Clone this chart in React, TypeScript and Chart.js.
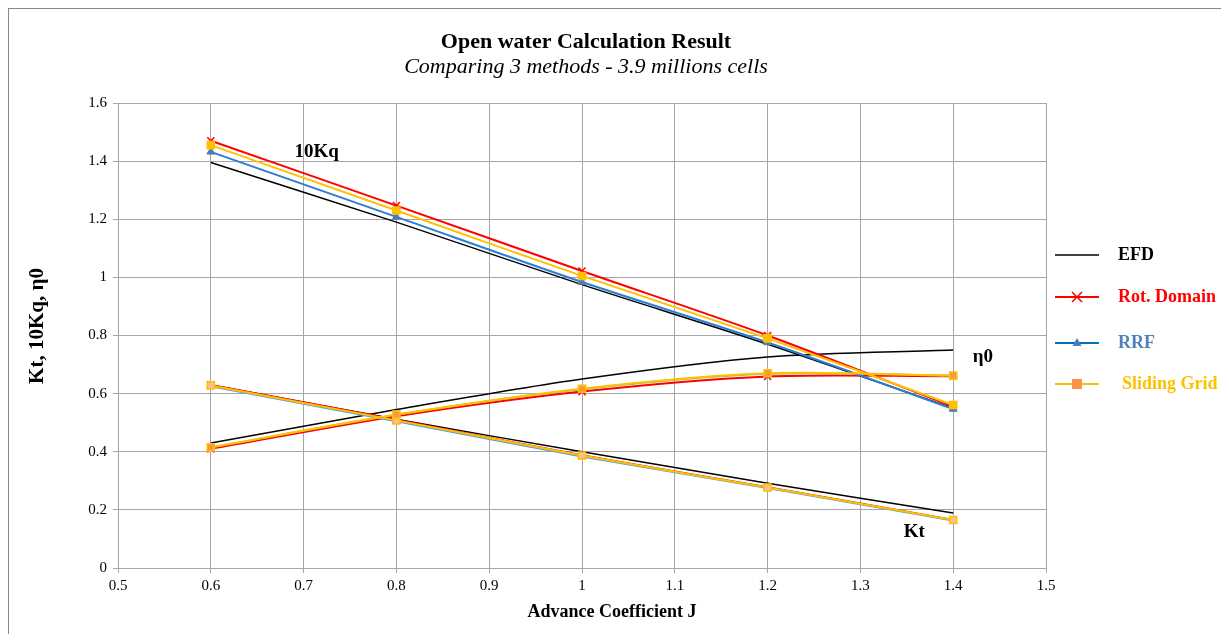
import React, { useEffect, useRef } from "react";
import { Chart, registerables } from "chart.js";

Chart.register(...registerables);

const TITLE = "Open water Calculation Result";
const SUBTITLE = "Comparing 3 methods - 3.9 millions cells";
const X_TITLE = "Advance Coefficient J";
const Y_TITLE = "Kt, 10Kq, η0";

const J = [0.6, 0.8, 1.0, 1.2, 1.4];

const efdKq10 = [1.395, 1.19, 0.975, 0.77, 0.55];
const efdEta = [0.43, 0.545, 0.65, 0.726, 0.75];
const efdKt = [0.63, 0.512, 0.4, 0.292, 0.189];

const rotKq10 = [1.47, 1.247, 1.022, 0.8, 0.555];
const rotEta = [0.41, 0.522, 0.607, 0.659, 0.66];
const rotKt = [0.63, 0.51, 0.388, 0.278, 0.165];

const rrfKq10 = [1.432, 1.208, 0.984, 0.776, 0.547];
const rrfEta = [0.415, 0.527, 0.615, 0.668, 0.662];
const rrfKt = [0.625, 0.505, 0.384, 0.275, 0.163];

const sgKq10 = [1.455, 1.23, 1.005, 0.79, 0.561];
const sgEta = [0.415, 0.528, 0.617, 0.67, 0.662];
const sgKt = [0.628, 0.508, 0.387, 0.277, 0.165];

const LEGEND = ["EFD", "Rot. Domain", "RRF", "Sliding Grid"];
const LABELS = [
  { text: "10Kq", x: 0.714, y: 1.43 },
  { text: "η0", x: 1.432, y: 0.726 },
  { text: "Kt", x: 1.358, y: 0.124 },
];

const pts = (ys: number[]) => J.map((x, i) => ({ x, y: ys[i] }));

const SERIF = '"Liberation Serif", "Times New Roman", serif';

export default function App() {
  const ref = useRef<HTMLCanvasElement | null>(null);

  useEffect(() => {
    if (!ref.current) return;

    const base = { showLine: true, tension: 0.3, borderWidth: 2 };
    const efd = (label: string, d: number[]) => ({
      ...base, label, data: pts(d), borderColor: "#000000", borderWidth: 1.5,
      pointRadius: 0, order: 4,
    });
    const rot = (label: string, d: number[]) => ({
      ...base, label, data: pts(d), borderColor: "#ff0000",
      pointStyle: "crossRot", pointRadius: 5, pointBorderColor: "#ff0000",
      pointBorderWidth: 1.5, order: 3,
    });
    const rrf = (label: string, d: number[], color: string) => ({
      ...base, label, data: pts(d), borderColor: color,
      pointStyle: "triangle", pointRadius: 4.5, pointBackgroundColor: "#4a7ebb",
      pointBorderColor: "#4a7ebb", pointBorderWidth: 1, order: 2,
    });
    const sg = (label: string, d: number[], fill: string) => ({
      ...base, label, data: pts(d), borderColor: "#ffc000",
      pointStyle: "rect", pointRadius: 5, pointBackgroundColor: fill,
      pointBorderColor: "#ffc000", pointBorderWidth: 1.5, order: 1,
    });

    const overlay = {
      id: "overlay",
      afterDraw(chart: any) {
        const ctx = chart.ctx;
        const xs = chart.scales.x;
        const ys = chart.scales.y;
        ctx.save();
        ctx.fillStyle = "#000";
        ctx.textAlign = "center";
        ctx.textBaseline = "middle";
        ctx.font = `bold 22px ${SERIF}`;
        ctx.fillText(TITLE, 577, 33);
        ctx.font = `italic 22px ${SERIF}`;
        ctx.fillText(SUBTITLE, 577, 58);
        ctx.font = `bold 18px ${SERIF}`;
        ctx.fillText(X_TITLE, 603, 603);
        ctx.save();
        ctx.translate(29, 317);
        ctx.rotate(-Math.PI / 2);
        ctx.font = `bold 21px ${SERIF}`;
        ctx.fillText(Y_TITLE, 0, 0);
        ctx.restore();

        // annotations
        ctx.font = `bold 19px ${SERIF}`;
        LABELS.forEach((l) => {
          ctx.fillText(l.text, xs.getPixelForValue(l.x), ys.getPixelForValue(l.y));
        });

        // legend
        const lx0 = 1046, lx1 = 1090, tx = 1109;
        const rows = [246, 288, 334, 375];
        const lineCols = ["#000000", "#ff0000", "#0070c0", "#ffc000"];
        const txtCols = ["#000000", "#ff0000", "#4f81bd", "#ffc000"];
        ctx.textAlign = "left";
        ctx.font = `bold 18px ${SERIF}`;
        rows.forEach((y, i) => {
          ctx.strokeStyle = lineCols[i];
          ctx.lineWidth = i === 0 ? 1.5 : 2;
          ctx.beginPath();
          ctx.moveTo(lx0, y);
          ctx.lineTo(lx1, y);
          ctx.stroke();
          const cx = (lx0 + lx1) / 2;
          if (i === 1) {
            ctx.lineWidth = 1.5;
            ctx.beginPath();
            ctx.moveTo(cx - 5, y - 5); ctx.lineTo(cx + 5, y + 5);
            ctx.moveTo(cx + 5, y - 5); ctx.lineTo(cx - 5, y + 5);
            ctx.stroke();
          } else if (i === 2) {
            ctx.fillStyle = "#4a7ebb";
            ctx.beginPath();
            ctx.moveTo(cx, y - 5); ctx.lineTo(cx + 4.5, y + 3); ctx.lineTo(cx - 4.5, y + 3);
            ctx.closePath();
            ctx.fill();
          } else if (i === 3) {
            ctx.fillStyle = "#f79646";
            ctx.fillRect(cx - 5, y - 5, 10, 10);
          }
          ctx.fillStyle = txtCols[i];
          ctx.fillText(LEGEND[i], tx + (i === 3 ? 4 : 0), y);
        });
        ctx.restore();
      },
    };

    const tickFont = { family: SERIF, size: 15 };
    const fmt = (v: any) => String(Math.round(Number(v) * 10) / 10);

    const chart = new Chart(ref.current, {
      type: "scatter",
      data: {
        datasets: [
          efd("EFD 10Kq", efdKq10),
          efd("EFD eta0", efdEta),
          efd("EFD Kt", efdKt),
          rot("Rot 10Kq", rotKq10),
          rot("Rot eta0", rotEta),
          rot("Rot Kt", rotKt),
          rrf("RRF 10Kq", rrfKq10, "#2a7fd4"),
          rrf("RRF eta0", rrfEta, "#9bbb59"),
          rrf("RRF Kt", rrfKt, "#4aa3df"),
          sg("SG 10Kq", sgKq10, "#ffc000"),
          sg("SG eta0", sgEta, "#f79646"),
          sg("SG Kt", sgKt, "#fac090"),
        ] as any,
      },
      options: {
        animation: false,
        responsive: true,
        maintainAspectRatio: false,
        layout: { padding: { top: 94, right: 175, left: 0, bottom: 0 } },
        plugins: { legend: { display: false }, tooltip: { enabled: false }, title: { display: false } },
        scales: {
          x: {
            type: "linear", min: 0.5, max: 1.5,
            ticks: { stepSize: 0.1, font: tickFont, color: "#000", padding: 4, callback: fmt },
            grid: { color: "#a6a6a6", tickLength: 5 },
            border: { color: "#a6a6a6" },
            afterFit: (s: any) => { s.height = 66; },
          },
          y: {
            min: 0, max: 1.6,
            ticks: { stepSize: 0.2, font: tickFont, color: "#000", padding: 6, callback: fmt },
            grid: { color: "#a6a6a6", tickLength: 5 },
            border: { color: "#a6a6a6" },
            afterFit: (s: any) => { s.width = 109; },
          },
        },
      } as any,
      plugins: [overlay],
    });
    return () => chart.destroy();
  }, []);

  return (
    <div style={{ width: 1212, height: 625, borderTop: "1px solid #888", borderLeft: "1px solid #888", background: "#fff" }}>
      <canvas ref={ref} />
    </div>
  );
}
